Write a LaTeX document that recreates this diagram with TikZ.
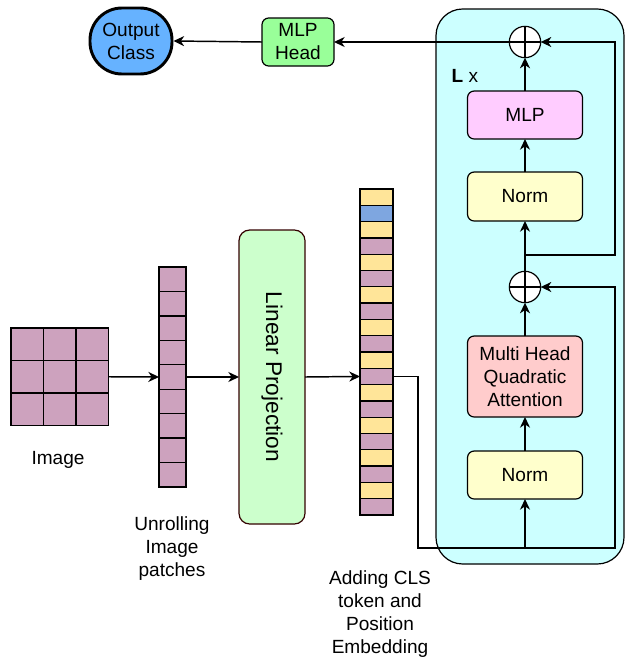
\documentclass[tikz,border=0pt]{standalone}
\usepackage{fontspec}
\setmainfont{Liberation Sans}
\usetikzlibrary{arrows.meta}

\definecolor{patchpink}{HTML}{CDA2BE}
\definecolor{posyellow}{HTML}{FFE599}
\definecolor{clsblue}{HTML}{7EA6E0}
\definecolor{outblue}{HTML}{66B2FF}
\definecolor{headgreen}{HTML}{99FF99}
\definecolor{encbg}{HTML}{CCFFFF}
\definecolor{mlppink}{HTML}{FFCCFF}
\definecolor{normyellow}{HTML}{FFFFCC}
\definecolor{attnred}{HTML}{FFCCCC}
\definecolor{projgreen}{HTML}{CCFFCC}
\definecolor{projborder}{HTML}{330000}

\newcommand{\labelsize}{\fontsize{14.3}{17.25}\selectfont}

\tikzset{
  arr/.style={line width=1.1pt,-{Stealth[length=8pt,width=7.5pt,inset=2.5pt]}},
  wire/.style={line width=1.1pt},
  block/.style={draw,line width=0.9pt,rounded corners=5pt,align=center,
                minimum width=86.25pt,inner sep=0pt,outer sep=0pt},
  plus/.style={draw,circle,fill=white,line width=0.9pt,minimum size=23.5pt,
               inner sep=0pt,outer sep=0pt,
               path picture={\draw[line width=0.9pt]
                 (path picture bounding box.north) -- (path picture bounding box.south)
                 (path picture bounding box.west) -- (path picture bounding box.east);}},
  imgcell/.style={draw,line width=1pt,fill=patchpink,minimum size=24.4pt,
                  inner sep=0pt,outer sep=0pt},
  rollcell/.style={draw,line width=1pt,fill=patchpink,minimum width=20.25pt,
                   minimum height=18.33pt,inner sep=0pt,outer sep=0pt},
  tokcell/.style={draw,line width=1pt,minimum width=24.75pt,
                  minimum height=12.225pt,inner sep=0pt,outer sep=0pt}
}

\begin{document}
\begin{tikzpicture}[x=0.75pt,y=-0.75pt,every node/.style={font=\labelsize}]
  \useasboundingbox[fill=white] (0,0) rectangle (626,657);
  % encoder block
  \node[draw,line width=0.9pt,fill=encbg,rounded corners=20pt,
        minimum width=141pt,minimum height=416.25pt,inner sep=0pt]
                       (enc)    at (530,286.5) {};
  \node[anchor=west]   (layers) at (447,76) {\textbf{L} x};
  \node[plus]          (tplus)  at (525,42) {};
  \node[block,fill=mlppink,minimum height=36pt]     (mlp)   at (525,115) {MLP};
  \node[block,fill=normyellow,minimum height=36.75pt] (norm2) at (525,196.5) {Norm};
  \node[plus]          (bplus)  at (525,287) {};
  \node[block,fill=attnred,minimum height=60.75pt]  (mha)   at (525,376.5)
                       {Multi Head\\Quadratic\\Attention};
  \node[block,fill=normyellow,minimum height=36pt]  (norm1) at (525,475) {Norm};
  % head and output
  \node[block,fill=headgreen,minimum width=54pt,minimum height=36pt]
                       (head)   at (298,42) {MLP\\Head};
  \node[draw,line width=2.2pt,fill=outblue,rounded corners=24pt,align=center,
        minimum width=61.5pt,minimum height=49.5pt,inner sep=0pt]
                       (outc)   at (131,41) {Output\\Class};
  % image patches
  \node[imgcell] (img11) at (27.25,344.25) {};
  \node[imgcell] (img12) at (59.75,344.25) {};
  \node[imgcell] (img13) at (92.25,344.25) {};
  \node[imgcell] (img21) at (27.25,376.75) {};
  \node[imgcell] (img22) at (59.75,376.75) {};
  \node[imgcell] (img23) at (92.25,376.75) {};
  \node[imgcell] (img31) at (27.25,409.25) {};
  \node[imgcell] (img32) at (59.75,409.25) {};
  \node[imgcell] (img33) at (92.25,409.25) {};
  \node          (imglabel) at (58,460) {Image};
  % unrolled patches
  \node[rollcell] (roll1) at (172.5,279.2) {};
  \node[rollcell] (roll2) at (172.5,303.7) {};
  \node[rollcell] (roll3) at (172.5,328.1) {};
  \node[rollcell] (roll4) at (172.5,352.5) {};
  \node[rollcell] (roll5) at (172.5,377.0) {};
  \node[rollcell] (roll6) at (172.5,401.4) {};
  \node[rollcell] (roll7) at (172.5,425.9) {};
  \node[rollcell] (roll8) at (172.5,450.3) {};
  \node[rollcell] (roll9) at (172.5,474.8) {};
  \node[align=center] (rolllabel) at (172,549) {Unrolling\\Image\\patches};
  % linear projection
  \node[draw=projborder,line width=0.9pt,fill=projgreen,rounded corners=8pt,
        minimum width=49.5pt,minimum height=220.5pt,inner sep=0pt,outer sep=0pt]
                       (proj)   at (272,377) {};
  \node[rotate=-90,font=\fontsize{17}{20}\selectfont]
                       (projlabel) at (proj.center) {Linear Projection};
  % tokens with position embedding
  \node[tokcell,fill=posyellow] (tok1)  at (376.5,197.15) {};
  \node[tokcell,fill=clsblue]   (tok2)  at (376.5,213.45) {};
  \node[tokcell,fill=posyellow] (tok3)  at (376.5,229.75) {};
  \node[tokcell,fill=patchpink] (tok4)  at (376.5,246.05) {};
  \node[tokcell,fill=posyellow] (tok5)  at (376.5,262.35) {};
  \node[tokcell,fill=patchpink] (tok6)  at (376.5,278.65) {};
  \node[tokcell,fill=posyellow] (tok7)  at (376.5,294.95) {};
  \node[tokcell,fill=patchpink] (tok8)  at (376.5,311.25) {};
  \node[tokcell,fill=posyellow] (tok9)  at (376.5,327.55) {};
  \node[tokcell,fill=patchpink] (tok10) at (376.5,343.85) {};
  \node[tokcell,fill=posyellow] (tok11) at (376.5,360.15) {};
  \node[tokcell,fill=patchpink] (tok12) at (376.5,376.45) {};
  \node[tokcell,fill=posyellow] (tok13) at (376.5,392.75) {};
  \node[tokcell,fill=patchpink] (tok14) at (376.5,409.05) {};
  \node[tokcell,fill=posyellow] (tok15) at (376.5,425.35) {};
  \node[tokcell,fill=patchpink] (tok16) at (376.5,441.65) {};
  \node[tokcell,fill=posyellow] (tok17) at (376.5,457.95) {};
  \node[tokcell,fill=patchpink] (tok18) at (376.5,474.25) {};
  \node[tokcell,fill=posyellow] (tok19) at (376.5,490.55) {};
  \node[tokcell,fill=patchpink] (tok20) at (376.5,506.85) {};
  \node[align=center] (toklabel) at (380,614.5)
                       {Adding CLS\\token and\\Position\\Embedding};
  % connectors
  \coordinate (bend)   at (418,548);
  \coordinate (jin)    at (525,548);
  \coordinate (rloop1) at (615,548);
  \coordinate (jmid)   at (525,255);
  \coordinate (rloop2) at (615,255);
  \draw[arr]  (img23.east) -- (roll5.west);
  \draw[arr]  (roll5.east) -- (proj.west);
  \draw[arr]  (proj.east)  -- (tok12.west);
  \draw[wire] (tok12.east) -| (bend) -- (jin);
  \draw[arr]  (jin)        -- (norm1.south);
  \draw[arr]  (jin) -- (rloop1) |- (bplus.east);
  \draw[arr]  (norm1.north) -- (mha.south);
  \draw[arr]  (mha.north)   -- (bplus.south);
  \draw[arr]  (bplus.north) -- (norm2.south);
  \draw[arr]  (jmid) -- (rloop2) |- (tplus.east);
  \draw[arr]  (norm2.north) -- (mlp.south);
  \draw[arr]  (mlp.north)   -- (tplus.south);
  \draw[arr]  (tplus.west)  -- (head.east);
  \draw[arr]  (head.west)   -- (outc.east);
\end{tikzpicture}
\end{document}
